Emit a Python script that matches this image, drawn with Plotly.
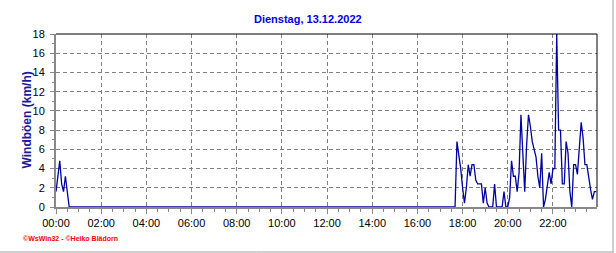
import plotly.graph_objects as go
import pandas as pd

# ---------------- data ----------------
day = "2022-12-13"
interval_minutes = 5
title_text = "Dienstag, 13.12.2022"
y_label = "Windböen (km/h)"
footer_text = "©WsWin32 - ©Heiko Blädorn"

# gusts after midnight, starting 00:00 (5-minute values)
night_start = "00:00"
night_gusts = [1.6, 3.2, 4.8, 2.4, 1.6, 3.2, 1.6, 0.0]

# gusts in the evening, starting 17:40 (5-minute values)
evening_start = "17:40"
evening_gusts = [
    0.0, 6.8, 5.6, 4.0, 2.0, 0.4, 2.0, 4.4, 3.2, 4.4,   # 17:40-18:25
    4.4, 2.8, 2.4, 2.4, 2.4, 0.4, 2.0, 0.4, 0.0, 0.0,   # 18:30-19:15
    0.0, 2.4, 0.0, 0.0, 0.0, 0.0, 1.6, 0.0, 0.0, 1.0,   # 19:20-20:05
    4.8, 3.2, 3.2, 1.6, 3.6, 9.6, 5.6, 1.6, 6.4, 9.6,   # 20:10-20:55
    8.4, 6.8, 6.0, 5.2, 3.2, 2.0, 5.6, 0.0, 0.8, 2.4,   # 21:00-21:45
    3.6, 2.4, 4.0, 4.0, 18.0, 8.0, 8.0, 2.4, 2.4, 6.8,  # 21:50-22:35
    5.6, 1.6, 0.0, 4.4, 4.4, 3.4, 6.4, 8.8, 7.2, 4.4,   # 22:40-23:25
    4.4, 2.8, 1.8, 0.8, 1.6, 1.6,                       # 23:30-23:55
]

tick_labels = ["00:00", "02:00", "04:00", "06:00", "08:00", "10:00",
               "12:00", "14:00", "16:00", "18:00", "20:00", "22:00"]
y_ticks = [0, 2, 4, 6, 8, 10, 12, 14, 16, 18]

# ---------------- build full-day series (all other readings are 0) ----------------
times = pd.date_range(f"{day} 00:00", periods=24 * 60 // interval_minutes,
                      freq=f"{interval_minutes}min")
series = pd.Series(0.0, index=times)
for start, vals in [(night_start, night_gusts), (evening_start, evening_gusts)]:
    idx = pd.date_range(f"{day} {start}", periods=len(vals),
                        freq=f"{interval_minutes}min")
    series.loc[idx] = vals

tick_vals = [pd.Timestamp(f"{day} {t}") for t in tick_labels]

fig = go.Figure()
fig.add_trace(go.Scatter(
    x=series.index, y=series.values, mode="lines",
    line=dict(color="#0000A0", width=1.3),
    cliponaxis=False, hoverinfo="skip", showlegend=False,
))

axis_font = dict(family="Liberation Sans, Arial, sans-serif", size=11, color="#000000")

fig.update_layout(
    width=616, height=253,
    margin=dict(l=56, r=19, t=34, b=46),
    paper_bgcolor="#FFFFFF", plot_bgcolor="#FFFFFF",
    font=axis_font,
    xaxis=dict(
        type="date",
        range=[f"{day} 00:00", f"{day} 23:57"],
        tickmode="array", tickvals=tick_vals, ticktext=tick_labels,
        tickfont=axis_font,
        showgrid=True, gridcolor="#808080", griddash="4px,3px", gridwidth=1,
        showline=True, linecolor="#888888", linewidth=2,
        ticks="outside", ticklen=5, tickcolor="#888888", tickwidth=1,
        minor=dict(dtick=30 * 60 * 1000, tick0=f"{day} 00:00", ticks="outside",
                   ticklen=3, tickcolor="#888888", showgrid=False),
        zeroline=False, layer="below traces", fixedrange=True,
    ),
    yaxis=dict(
        range=[0, 18],
        tickmode="array", tickvals=y_ticks,
        tickfont=axis_font,
        showgrid=True, gridcolor="#808080", griddash="4px,3px", gridwidth=1,
        showline=True, linecolor="#888888", linewidth=2,
        ticks="outside", ticklen=4, tickcolor="#888888", tickwidth=1,
        ticklabelstandoff=3,
        minor=dict(dtick=1, ticks="outside", ticklen=2, tickcolor="#888888",
                   showgrid=False),
        zeroline=False, layer="below traces", fixedrange=True,
    ),
    shapes=[
        # top and right frame (black)
        dict(type="line", xref="paper", yref="paper", x0=0, x1=1, y0=1, y1=1,
             line=dict(color="#000000", width=1)),
        dict(type="line", xref="paper", yref="paper", x0=1, x1=1, y0=0, y1=1,
             line=dict(color="#000000", width=1)),
        # outer window border (grey)
        dict(type="line", xref="paper", yref="paper",
             x0=(613 - 56) / 541, x1=(613 - 56) / 541, y0=(207 - 0) / 173, y1=(207 - 253) / 173,
             line=dict(color="#A0A0A0", width=1)),
        dict(type="line", xref="paper", yref="paper",
             x0=-56 / 541, x1=(613 - 56) / 541, y0=(207 - 252) / 173, y1=(207 - 252) / 173,
             line=dict(color="#A0A0A0", width=1)),
    ],
    annotations=[
        dict(text=f"<b>{title_text}</b>", xref="paper", yref="paper",
             x=(308 - 56) / 541, y=(207 - 19) / 173, xanchor="center", yanchor="middle",
             showarrow=False,
             font=dict(family="Liberation Sans, Arial, sans-serif", size=11, color="#0000E0")),
        dict(text=f"<b>{y_label}</b>", xref="paper", yref="paper",
             x=(26 - 56) / 541, y=0.5, xanchor="center", yanchor="middle",
             textangle=-90, showarrow=False,
             font=dict(family="Liberation Sans, Arial, sans-serif", size=12, color="#1A1AA0")),
        dict(text=f"<b>{footer_text}</b>", xref="paper", yref="paper",
             x=(21 - 56) / 541, y=(207 - 238) / 173, xanchor="left", yanchor="middle",
             showarrow=False,
             font=dict(family="Liberation Sans, Arial, sans-serif", size=7, color="#FF0000")),
    ],
)

fig.write_html("out.html", config={"displayModeBar": False})
